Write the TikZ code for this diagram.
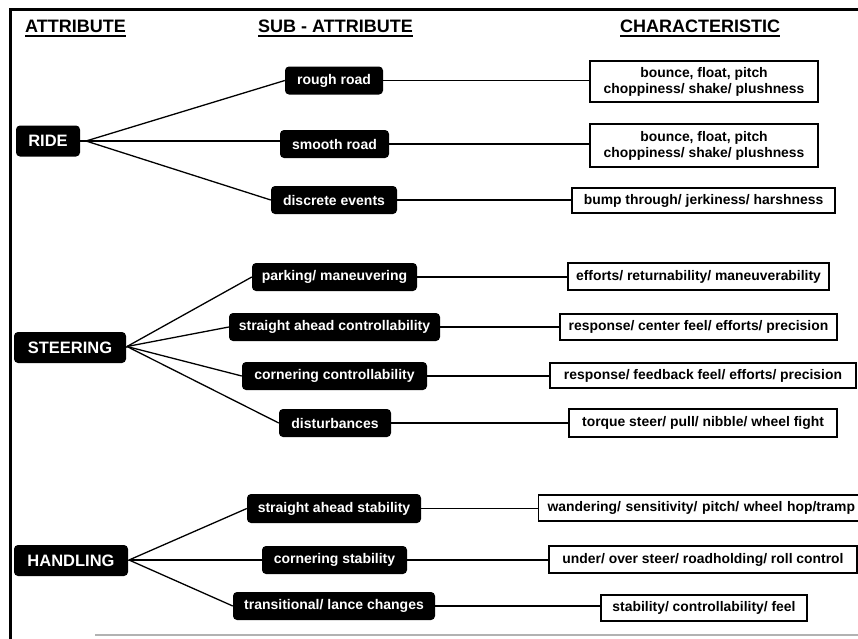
\documentclass[tikz,border=0pt]{standalone}
\usepackage{fontspec}
\setmainfont{Liberation Sans}
\begin{document}
\begin{tikzpicture}[x=1pt,y=-1pt,
  attr/.style={fill=black, text=white, rounded corners=4pt, inner sep=0pt,
    font=\bfseries\fontsize{16.5}{18}\selectfont, minimum height=31pt},
  sub/.style={fill=black, text=white, rounded corners=4pt, inner sep=0pt,
    font=\bfseries\fontsize{14}{16}\selectfont, minimum height=28pt},
  charbox/.style={draw=black, line width=1.3pt, fill=white, inner sep=0pt, align=center,
    font=\bfseries\fontsize{13.9}{16}\selectfont},
  head/.style={font=\bfseries\fontsize{18}{20}\selectfont, inner sep=0pt, anchor=base west},
  uline/.style={line width=1.5pt},
  link/.style={line width=1.3pt},
  frame/.style={line width=3pt},
]
\clip (0,0) rectangle (858,638);

% outer frame
\draw[frame] (10,640) -- (10,9.5) -- (860,9.5);
\draw[line width=1.2pt, black!30] (95,635) -- (860,635);

% column headings
\node[head] (hA) at (25,32) {ATTRIBUTE};
\node[head] (hS) at (258,32) {SUB - ATTRIBUTE};
\node[head] (hC) at (620,32) {CHARACTERISTIC};
\foreach \h in {hA,hS,hC}
  \draw[uline] ([yshift=-4pt]\h.base west) -- ([yshift=-4pt]\h.base east);

% attributes
\node[attr, minimum width=64pt]  (ride)  at (48,141)   {RIDE};
\node[attr, minimum width=112pt] (steer) at (70,347.5) {STEERING};
\node[attr, minimum width=114pt] (hand)  at (71,560.5) {HANDLING};

% sub-attributes
\node[sub, minimum width=98pt]  (rough)  at (334,80.5)  {rough road};
\node[sub, minimum width=109pt] (smooth) at (334.5,144) {smooth road};
\node[sub, minimum width=126pt] (disc)   at (334,200)   {discrete events};

\node[sub, minimum width=165pt] (park)   at (334.5,277) {parking/ maneuvering};
\node[sub, minimum width=211pt] (sactl)  at (334.5,327) {straight ahead controllability};
\node[sub, minimum width=185pt] (cctl)   at (334.5,376) {cornering controllability};
\node[sub, minimum width=112pt] (dist)   at (335,423)   {disturbances};

\node[sub, minimum width=174pt, minimum height=29pt] (sastab) at (334,508.5) {straight ahead stability};
\node[sub, minimum width=145pt] (cstab)  at (334.5,560) {cornering stability};
\node[sub, minimum width=202pt] (trans)  at (334,606)   {transitional/ lance changes};

% characteristics
\node[charbox, minimum width=228pt, minimum height=41pt] (c1) at (704,81.5)
  {bounce, float, pitch\\choppiness/ shake/ plushness};
\node[charbox, minimum width=228pt, minimum height=43pt] (c2) at (704,145.5)
  {bounce, float, pitch\\choppiness/ shake/ plushness};
\node[charbox, minimum width=263pt, minimum height=25pt] (c3) at (703.5,200.5)
  {bump through/ jerkiness/ harshness};

\node[charbox, minimum width=261pt, minimum height=27pt] (c4) at (698.5,276.5)
  {efforts/ returnability/ maneuverability};
\node[charbox, minimum width=277pt, minimum height=26pt] (c5) at (698.5,327)
  {response/ center feel/ efforts/ precision};
\node[charbox, minimum width=306pt, minimum height=25pt] (c6) at (703,375.5)
  {response/ feedback feel/ efforts/ precision};
\node[charbox, minimum width=268pt, minimum height=28pt] (c7) at (703,423)
  {torque steer/ pull/ nibble/ wheel fight};

% this box runs on past the right edge of the sheet
\node[charbox, anchor=west, inner xsep=9pt, text width=320pt, align=left,
  minimum height=26pt] (c8) at (538,508)
  {wandering/ sensitivity/ pitch/ wheel hop/tramp};
\node[charbox, minimum width=308pt, minimum height=27pt] (c9) at (703,559.5)
  {under/ over steer/ roadholding/ roll control};
\node[charbox, minimum width=206pt, minimum height=26pt] (c10) at (704,608)
  {stability/ controllability/ feel};

% fan-out points
\coordinate (rj) at (86,141);
\coordinate (sj) at (127,346.5);
\coordinate (hj) at (129,560);

\draw[link] (ride.east) -- (rj);
\draw[link] (steer.east) -- (sj);
\draw[link] (hand.east) -- (hj);

\draw[link] (rj) -- (rough.west);
\draw[link] (rj) -- (rj -| smooth.west);
\draw[link] (rj) -- (disc.west);
\foreach \s in {park,sactl,cctl,dist} \draw[link] (sj) -- (\s.west);
\foreach \s in {sastab,cstab,trans}   \draw[link] (hj) -- (\s.west);

% sub-attribute to characteristic
\foreach \s/\c in {rough/c1,smooth/c2,disc/c3,park/c4,sactl/c5,cctl/c6,dist/c7,sastab/c8,cstab/c9,trans/c10}
  \draw[link] (\s.east) -- (\s.east -| \c.west);
\end{tikzpicture}
\end{document}
